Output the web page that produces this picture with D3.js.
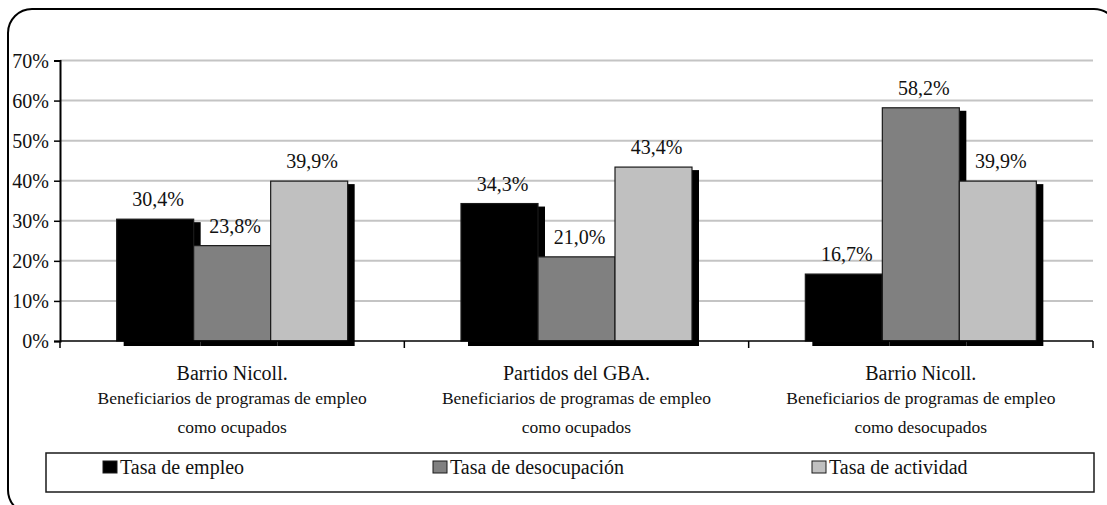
<!DOCTYPE html>
<html>
<head>
<meta charset="utf-8">
<script src="https://cdn.jsdelivr.net/npm/d3@7"></script>
<style>
  html, body { margin: 0; padding: 0; background: #fff; }
  svg { display: block; }
</style>
</head>
<body>
<svg id="chart" width="1107" height="505"></svg>
<script>
// Group titles and their two-line descriptions
const categories = ["Barrio Nicoll.", "Partidos del GBA.", "Barrio Nicoll."];
const subtitles = [
  ["Beneficiarios de programas de empleo", "como ocupados"],
  ["Beneficiarios de programas de empleo", "como ocupados"],
  ["Beneficiarios de programas de empleo", "como desocupados"]
];
const seriesNames = ["Tasa de empleo", "Tasa de desocupación", "Tasa de actividad"];
const seriesColors = ["#000000", "#808080", "#c0c0c0"];
const tasaEmpleo = [30.4, 34.3, 16.7];
const tasaDesocupacion = [23.8, 21.0, 58.2];
const tasaActividad = [39.9, 43.4, 39.9];
const yTicks = [0, 10, 20, 30, 40, 50, 60, 70];

const seriesValues = [tasaEmpleo, tasaDesocupacion, tasaActividad];
const FONT = "'Liberation Serif', Tinos, 'Times New Roman', 'DejaVu Serif', serif";
const svg = d3.select("#chart").attr("font-family", FONT);

// Outer rounded frame
svg.append("rect")
  .attr("x", 8).attr("y", 9).attr("width", 1110).attr("height", 505)
  .attr("rx", 24).attr("ry", 24)
  .attr("fill", "none").attr("stroke", "#000").attr("stroke-width", 2);

const plotLeft = 60, plotRight = 1093, plotTop = 60.5, plotBottom = 341;
const x0 = d3.scaleBand().domain(d3.range(categories.length)).range([plotLeft, plotRight]).paddingInner(0).paddingOuter(0);
const groupW = 231;
const x1 = d3.scaleBand().domain(d3.range(seriesNames.length)).range([0, groupW]);
const y = d3.scaleLinear().domain([0, 70]).range([plotBottom, plotTop]);
const fmt = v => d3.format(".1f")(v).replace(".", ",") + "%";

// Gridlines
svg.append("g").selectAll("line").data(yTicks.filter(t => t > 0)).join("line")
  .attr("x1", plotLeft).attr("x2", plotRight)
  .attr("y1", d => y(d)).attr("y2", d => y(d))
  .attr("stroke", "#c4c4c4").attr("stroke-width", 2);

// Bars with drop shadow, drawn series by series
const groupOffset = (x0.bandwidth() - groupW) / 2;
const shadowDx = 7, shadowDy = 3;
seriesValues.forEach((vals, s) => {
  const g = svg.append("g");
  vals.forEach((v, c) => {
    const bx = x0(c) + groupOffset + x1(s);
    const by = y(v);
    g.append("rect")
      .attr("x", bx + shadowDx).attr("y", by + shadowDy)
      .attr("width", x1.bandwidth()).attr("height", plotBottom - by + 2)
      .attr("fill", "#000");
    g.append("rect")
      .attr("x", bx).attr("y", by)
      .attr("width", x1.bandwidth()).attr("height", plotBottom - by)
      .attr("fill", seriesColors[s]).attr("stroke", "#1a1a1a").attr("stroke-width", 1.2);
  });
});

// Value labels
seriesValues.forEach((vals, s) => {
  svg.append("g").selectAll("text").data(vals).join("text")
    .attr("x", (v, c) => x0(c) + groupOffset + x1(s) + x1.bandwidth() / 2 + 3)
    .attr("y", v => y(v) - 13)
    .attr("text-anchor", "middle")
    .attr("font-size", 20).attr("fill", "#111")
    .text(fmt);
});

// Y axis
const yAxis = d3.axisLeft(y).tickValues(yTicks).tickSize(6).tickFormat(d => d + "%");
const ya = svg.append("g").attr("transform", `translate(${plotLeft},0)`).call(yAxis)
  .attr("font-family", FONT);
ya.select(".domain").attr("stroke", "#000").attr("stroke-width", 2);
ya.selectAll(".tick line").attr("stroke", "#000").attr("stroke-width", 1.5);
ya.selectAll(".tick text").attr("font-size", 20).attr("fill", "#111").attr("x", -11).attr("dy", "0.34em");

// X axis with boundary ticks
svg.append("line").attr("x1", plotLeft).attr("x2", plotRight).attr("y1", plotBottom).attr("y2", plotBottom)
  .attr("stroke", "#000").attr("stroke-width", 1.5);
const boundaries = d3.range(categories.length + 1).map(i => i < categories.length ? x0(i) : plotRight);
svg.append("g").selectAll("line").data(boundaries).join("line")
  .attr("x1", d => d).attr("x2", d => d).attr("y1", plotBottom).attr("y2", plotBottom + 7)
  .attr("stroke", "#000").attr("stroke-width", 1.5);

// Category labels
categories.forEach((cat, i) => {
  const cx = x0(i) + x0.bandwidth() / 2;
  svg.append("text").attr("x", cx).attr("y", 380).attr("text-anchor", "middle")
    .attr("font-size", 20).attr("fill", "#111").text(cat);
  subtitles[i].forEach((line, k) => {
    svg.append("text").attr("x", cx).attr("y", 404 + k * 29).attr("text-anchor", "middle")
      .attr("font-size", 17.5).attr("fill", "#111").text(line);
  });
});

// Legend
svg.append("rect").attr("x", 46).attr("y", 453).attr("width", 1048).attr("height", 39)
  .attr("fill", "#fff").attr("stroke", "#1a1a1a").attr("stroke-width", 1.5);
const legendX = [103, 433, 812];
seriesNames.forEach((name, s) => {
  svg.append("rect").attr("x", legendX[s]).attr("y", 461).attr("width", 14).attr("height", 12)
    .attr("fill", seriesColors[s]).attr("stroke", "#1a1a1a").attr("stroke-width", 1);
  svg.append("text").attr("x", legendX[s] + 17).attr("y", 474).attr("font-size", 20)
    .attr("fill", "#111").text(name);
});
</script>
</body>
</html>
